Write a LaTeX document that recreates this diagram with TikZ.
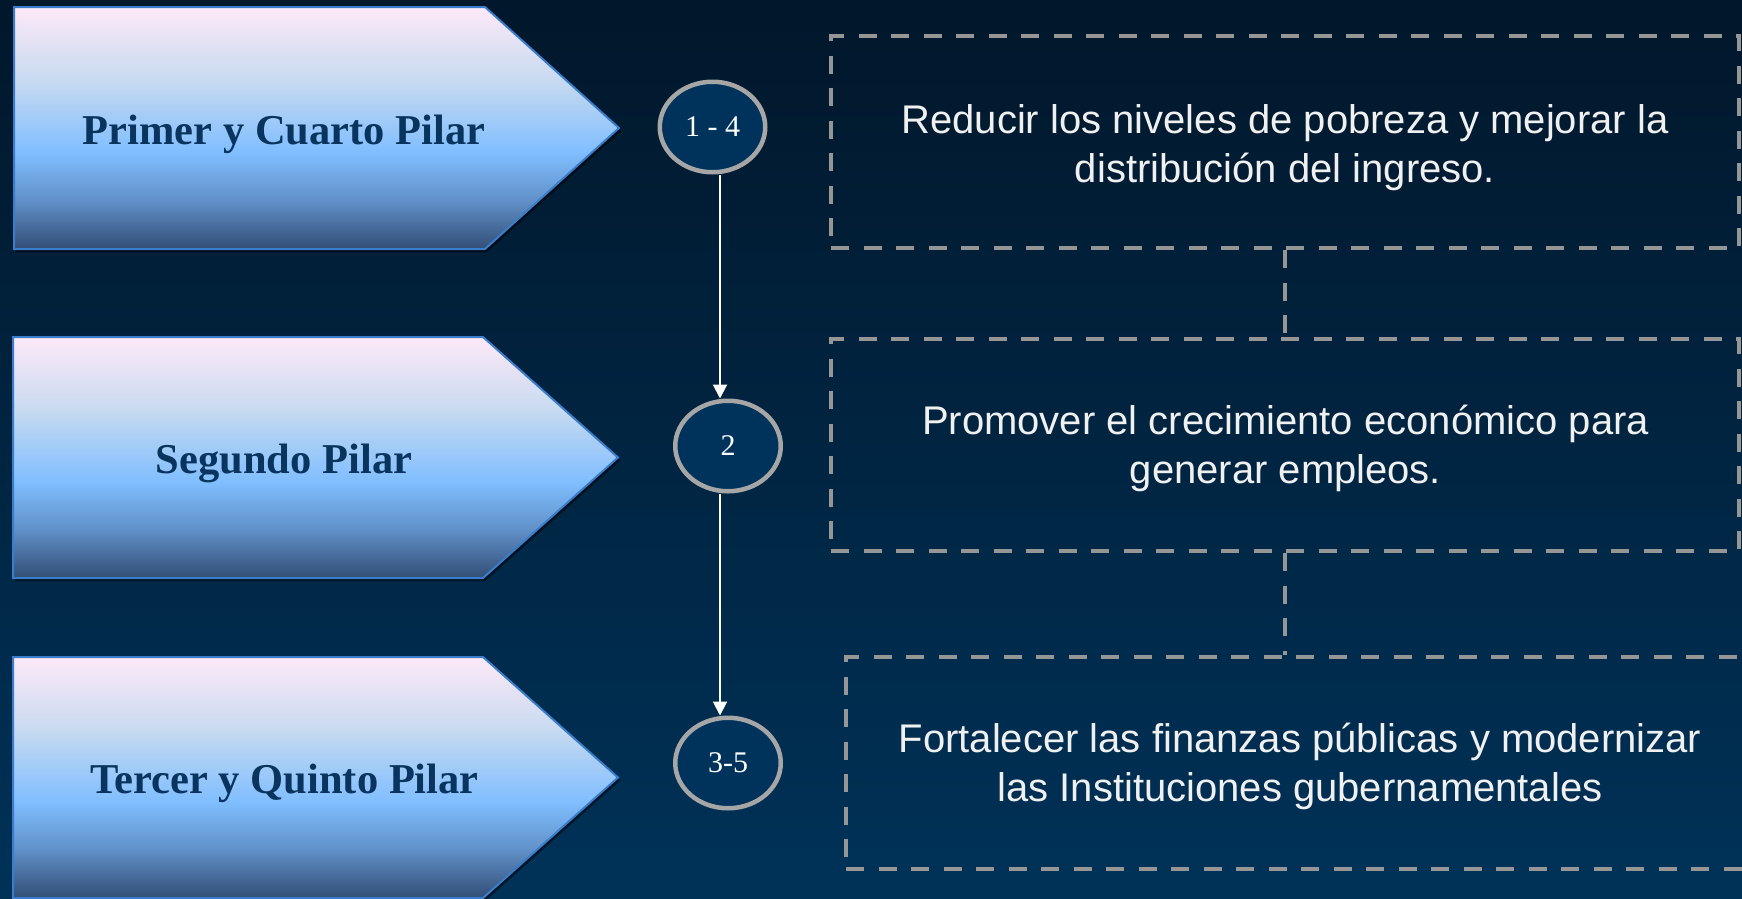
\documentclass[tikz,border=0pt]{standalone}
\usepackage{fontspec}
\setmainfont{Liberation Serif}
\newfontfamily\arialf{Liberation Sans}
\usetikzlibrary{shapes.geometric,arrows.meta}
\definecolor{bgtop}{RGB}{1,23,43}
\definecolor{bgbot}{RGB}{0,50,88}
\definecolor{pbot}{RGB}{50,78,118}
\definecolor{pdk}{RGB}{96,144,200}
\definecolor{plb}{RGB}{128,190,255}
\definecolor{plav}{RGB}{200,218,240}
\definecolor{ptop}{RGB}{253,233,248}
\definecolor{pborder}{RGB}{58,125,205}
\definecolor{ptextc}{RGB}{8,52,94}
\definecolor{cgray}{RGB}{166,166,166}
\definecolor{cfill}{RGB}{0,51,92}
\definecolor{dgray}{RGB}{150,150,150}
\definecolor{btextc}{RGB}{240,240,240}
\pgfdeclareverticalshading{pentshade}{100bp}{color(0bp)=(pbot); color(25bp)=(pbot); color(35bp)=(pdk); color(45bp)=(plb); color(60bp)=(plav); color(75bp)=(ptop); color(100bp)=(ptop)}
\tikzset{
  pent/.style={shading=pentshade, draw=pborder, line width=2pt, line join=miter},
  pshadow/.style={fill=black, fill opacity=.55},
  ptext/.style={font=\fontsize{42.5}{50}\selectfont\bfseries, text=ptextc, anchor=base, inner sep=0pt},
  circ/.style={ellipse, draw=cgray, line width=4.5pt, fill=cfill, minimum width=105.5pt, minimum height=90.5pt, inner sep=0pt, font=\fontsize{30}{36}\selectfont, text=white},
  arr/.style={draw=white, line width=2pt, -{Triangle[length=14pt,width=14pt]}},
  dbox/.style={draw=dgray, line width=4pt, dash pattern=on 18pt off 14.5pt, minimum width=908pt, minimum height=212pt, inner sep=0pt},
  btext/.style={font=\arialf\fontsize{40}{48.5}\selectfont, text=btextc, align=center, anchor=base, inner sep=0pt},
  dconn/.style={draw=dgray, line width=4pt, dash pattern=on 18pt off 14.5pt}
}
\begin{document}
\begin{tikzpicture}[x=1pt,y=-1pt]
\useasboundingbox (0,0) rectangle (1742,898);
\fill[top color=bgtop, bottom color=bgbot] (0,0) rectangle (1742,898);
% shadows
\fill[pshadow,shift={(2,3)}] (14,7) -- (485,7) -- (619,128) -- (485,249) -- (14,249) -- cycle;
\fill[pshadow,shift={(2,3)}] (13,337) -- (483,337) -- (618,457.5) -- (483,578) -- (13,578) -- cycle;
\fill[pshadow,shift={(2,3)}] (13,657) -- (483,657) -- (618,777.5) -- (483,898) -- (13,898) -- cycle;
% pentagons
\path[pent] (14,7) -- (485,7) -- (619,128) -- (485,249) -- (14,249) -- cycle;
\path[pent] (13,337) -- (483,337) -- (618,457.5) -- (483,578) -- (13,578) -- cycle;
\path[pent] (13,657) -- (483,657) -- (618,777.5) -- (483,898) -- (13,898) -- cycle;
\node[ptext] (p1) at (284,144) {Primer y Cuarto Pilar};
\node[ptext] (p2) at (284,473) {Segundo Pilar};
\node[ptext] (p3) at (284.5,793) {Tercer y Quinto Pilar};
% dashed boxes
\node[dbox] (b1) at (1285,142) {};
\node[dbox] (b2) at (1285,445) {};
\node[dbox] (b3) at (1300,763) {};
\node[btext] (t1) at (1285,182) {Reducir los niveles de pobreza y mejorar la\\distribución del ingreso.};
\node[btext] (t2) at (1285.5,483) {Promover el crecimiento económico para\\generar empleos.};
\node[btext] (t3) at (1300,801) {Fortalecer las finanzas públicas y modernizar\\las Instituciones gubernamentales};
\draw[dconn] (b1.south) -- (b2.north);
\draw[dconn] (b2.south) -- (b2.south |- b3.north);
% circles
\node[circ] (c1) at (712.5,127) {1 - 4};
\node[circ] (c2) at (728,446) {2};
\node[circ] (c3) at (728,763) {3-5};
\coordinate (ax) at (720,0);
\draw[arr] (c1.south -| ax) -- (c2.north -| ax);
\draw[arr] (c2.south -| ax) -- (c3.north -| ax);
\end{tikzpicture}
\end{document}
